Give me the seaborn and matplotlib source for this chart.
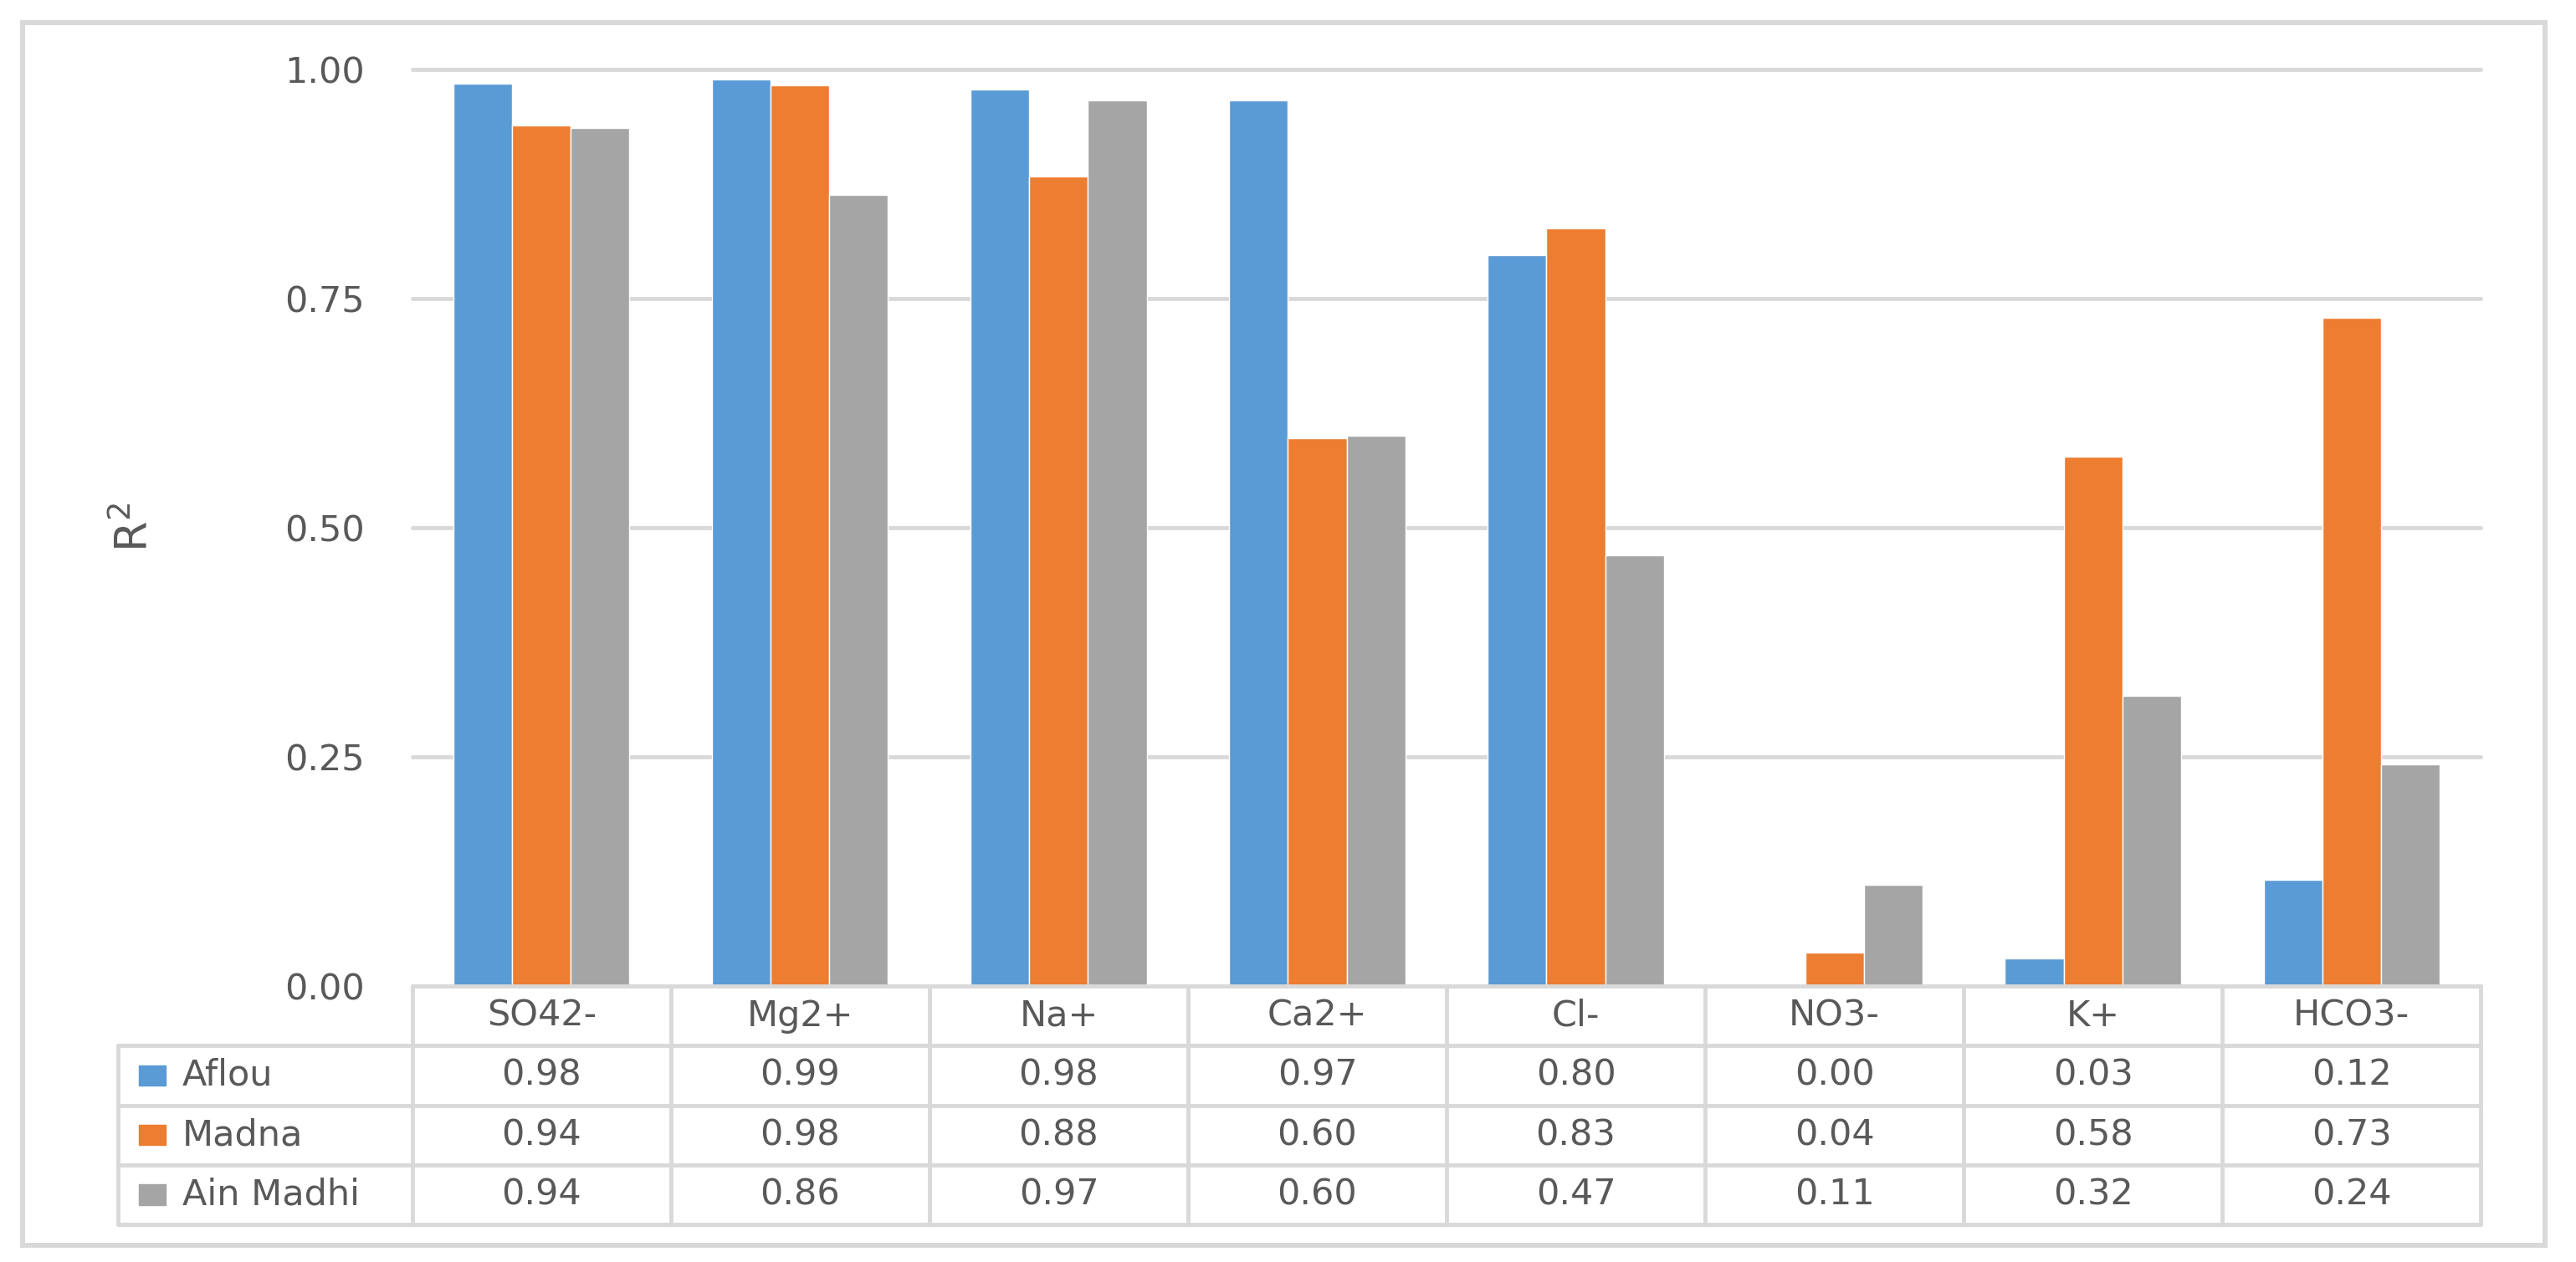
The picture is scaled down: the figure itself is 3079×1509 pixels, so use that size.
import pandas as pd
import matplotlib.pyplot as plt
from matplotlib.patches import Rectangle
import seaborn as sns

# data
ions = ['SO42-', 'Mg2+', 'Na+', 'Ca2+', 'Cl-', 'NO3-', 'K+', 'HCO3-']
sites = ['Aflou', 'Madna', 'Ain Madhi']
aflou = [0.984, 0.989, 0.978, 0.966, 0.797, 0.001, 0.030, 0.116]
madna = [0.938, 0.982, 0.883, 0.597, 0.826, 0.036, 0.577, 0.729]
ain_madhi = [0.936, 0.863, 0.966, 0.600, 0.470, 0.110, 0.316, 0.242]
colors = ['#5B9BD5', '#ED7D31', '#A5A5A5']

rows = []
for site, vals in zip(sites, [aflou, madna, ain_madhi]):
    for ion, v in zip(ions, vals):
        rows.append({'ion': ion, 'site': site, 'r2': v})
df = pd.DataFrame(rows)

sns.set_theme(style='white')
plt.rcParams['font.family'] = ['DejaVu Sans']
plt.rcParams['mathtext.fontset'] = 'dejavusans'
txt = '#595959'
grid = '#D9D9D9'
fs = 31

W, H = 1568, 768  # layout measured on the shrunk picture
fig = plt.figure(figsize=(30.79, 15.09), dpi=100)

# plot area
x0, x1 = 251, 1510
y_top, y_zero = 42, 600
ax = fig.add_axes([x0 / W, 1 - y_zero / H, (x1 - x0) / W, (y_zero - y_top) / H])
sns.barplot(data=df, x='ion', y='r2', hue='site', palette=colors,
            width=0.68, gap=0, saturation=1, legend=False, ax=ax)
ax.set_ylim(0, 1.0)
ax.set_xlim(-0.5, len(ions) - 0.5)
ticks = [0, 0.25, 0.5, 0.75, 1.0]
ax.set_yticks(ticks)
ax.set_yticklabels([f'{t:.2f}' for t in ticks])
ax.tick_params(axis='y', length=0, pad=41, labelsize=fs, labelcolor=txt)
ax.set_xticks([])
ax.set_xlabel('')
ax.set_ylabel('')
for s in ax.spines.values():
    s.set_visible(False)
for t in ticks[1:]:
    ax.axhline(t, color=grid, lw=3.5, zorder=0, clip_on=False)

fig.text(82 / W, 1 - 321 / H, 'R$^2$', rotation=90, ha='center', va='center',
         fontsize=38, color=txt)

# data table under the plot
unit = (x1 - x0) / len(ions)
head_w = 179 / unit
row_h = 36.3
tab = fig.add_axes([(x0 - head_w * unit) / W, 1 - (y_zero + 4 * row_h) / H,
                    (x1 - x0 + head_w * unit) / W, 4 * row_h / H])
tab.set_xlim(-0.5 - head_w, len(ions) - 0.5)
tab.set_ylim(4, 0)
tab.axis('off')
lw = 3.5
tab.plot([-0.5, len(ions) - 0.5], [0, 0], color=grid, lw=lw, clip_on=False)
for r in range(1, 5):
    tab.plot([-0.5 - head_w, len(ions) - 0.5], [r, r], color=grid, lw=lw, clip_on=False)
tab.plot([-0.5 - head_w] * 2, [1, 4], color=grid, lw=lw, clip_on=False)
for k in range(len(ions) + 1):
    tab.plot([k - 0.5] * 2, [0, 4], color=grid, lw=lw, clip_on=False)

for i, ion in enumerate(ions):
    tab.text(i, 0.5, ion, ha='center', va='center', fontsize=fs, color=txt)
for r, (site, vals, c) in enumerate(zip(sites, [aflou, madna, ain_madhi], colors)):
    yc = r + 1.5
    tab.add_patch(Rectangle((-0.5 - head_w + 0.079, yc - 0.17), 0.105, 0.34,
                            color=c, clip_on=False))
    tab.text(-0.5 - head_w + 0.248, yc, site, ha='left', va='center',
             fontsize=fs, color=txt)
    for i, v in enumerate(vals):
        tab.text(i, yc, f'{v:.2f}', ha='center', va='center', fontsize=fs, color=txt)

# outer chart border
bl, bt, br, bb = 13.6, 13.7, 1549, 757.6
fig.add_artist(Rectangle((bl / W, 1 - bb / H), (br - bl) / W, (bb - bt) / H,
                         transform=fig.transFigure, fill=False,
                         edgecolor=grid, lw=4.3))

fig.savefig('out.png', dpi=100, facecolor='white')
